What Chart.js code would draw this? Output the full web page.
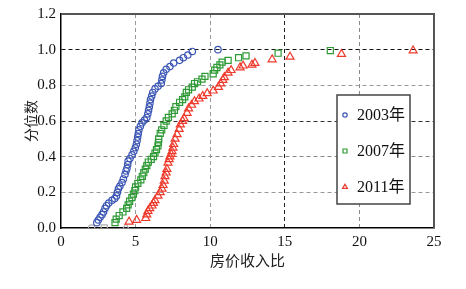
<!DOCTYPE html>
<html>
<head>
<meta charset="utf-8">
<script src="https://cdn.jsdelivr.net/npm/chart.js@4.4.0/dist/chart.umd.min.js"></script>
<style>
html, body { margin: 0; padding: 0; background: #fff; }
#wrap { width: 466px; height: 289px; }
</style>
</head>
<body>
<div id="wrap"><canvas id="c" width="466" height="289"></canvas></div>
<script>
// ===== данные =====
const seriesLabels = ['2003年', '2007年', '2011年'];

const x2003 = [2.05, 2.4, 2.5, 2.62, 2.75, 2.85, 2.95, 3.05, 3.2, 3.42, 3.6, 3.72, 3.78, 3.85, 3.95, 4.09, 4.18, 4.29, 4.36, 4.42, 4.47, 4.5, 4.62, 4.76, 4.88, 4.98, 5.05, 5.1, 5.14, 5.18, 5.22, 5.32, 5.43, 5.6, 5.75, 5.82, 5.87, 5.92, 5.96, 6.0, 6.08, 6.15, 6.3, 6.5, 6.72, 6.76, 6.8, 6.88, 7.05, 7.3, 7.55, 7.95, 8.2, 8.5, 8.8, 10.52];
const y2003 = [0, 0.03, 0.045, 0.06, 0.075, 0.09, 0.11, 0.125, 0.14, 0.155, 0.165, 0.18, 0.2, 0.22, 0.235, 0.255, 0.275, 0.3, 0.32, 0.335, 0.355, 0.375, 0.39, 0.41, 0.43, 0.45, 0.47, 0.49, 0.51, 0.53, 0.55, 0.57, 0.59, 0.605, 0.62, 0.64, 0.66, 0.68, 0.7, 0.72, 0.74, 0.76, 0.78, 0.795, 0.81, 0.83, 0.85, 0.87, 0.89, 0.905, 0.925, 0.94, 0.955, 0.97, 0.99, 1.0];

const x2007 = [2.9, 3.62, 3.7, 3.9, 4.15, 4.4, 4.5, 4.6, 4.75, 4.85, 4.95, 5.0, 5.15, 5.35, 5.45, 5.55, 5.65, 5.75, 5.85, 6.05, 6.2, 6.3, 6.4, 6.5, 6.53, 6.55, 6.65, 6.75, 6.9, 7.05, 7.2, 7.45, 7.6, 7.7, 7.95, 8.15, 8.3, 8.4, 8.55, 8.8, 8.95, 9.15, 9.45, 9.65, 10.2, 10.3, 10.45, 10.65, 10.8, 11.2, 11.9, 12.4, 14.55, 18.05];
const y2007 = [0, 0.03, 0.05, 0.07, 0.09, 0.11, 0.13, 0.15, 0.17, 0.19, 0.21, 0.23, 0.25, 0.27, 0.29, 0.31, 0.33, 0.35, 0.37, 0.385, 0.4, 0.42, 0.44, 0.46, 0.48, 0.5, 0.53, 0.55, 0.575, 0.6, 0.62, 0.64, 0.66, 0.68, 0.705, 0.72, 0.735, 0.76, 0.775, 0.79, 0.81, 0.82, 0.835, 0.85, 0.865, 0.885, 0.9, 0.915, 0.93, 0.94, 0.955, 0.965, 0.98, 0.995];

const x2011 = [4.35, 4.56, 5.07, 5.68, 5.75, 5.83, 5.95, 6.1, 6.2, 6.3, 6.5, 6.65, 6.77, 6.84, 6.92, 6.97, 7.05, 7.1, 7.17, 7.25, 7.3, 7.38, 7.44, 7.5, 7.55, 7.65, 7.78, 7.92, 8.0, 8.15, 8.25, 8.45, 8.55, 8.75, 8.95, 9.25, 9.5, 9.8, 10.2, 10.55, 10.7, 10.85, 10.95, 11.2, 11.4, 12.0, 12.2, 12.8, 13.0, 14.15, 15.35, 18.8, 23.6];
const y2011 = [0, 0.035, 0.045, 0.055, 0.075, 0.095, 0.11, 0.125, 0.14, 0.155, 0.18, 0.2, 0.22, 0.24, 0.265, 0.29, 0.31, 0.33, 0.365, 0.385, 0.4, 0.415, 0.43, 0.45, 0.47, 0.5, 0.525, 0.555, 0.58, 0.6, 0.615, 0.645, 0.67, 0.69, 0.71, 0.725, 0.74, 0.755, 0.77, 0.79, 0.81, 0.83, 0.845, 0.87, 0.885, 0.9, 0.91, 0.915, 0.925, 0.945, 0.96, 0.975, 0.995];

const xTicks = [0, 5, 10, 15, 20, 25];
const yTicks = [0, 0.2, 0.4, 0.6, 0.8, 1.0, 1.2];

const serif = "'Liberation Serif', 'Noto Sans CJK SC', serif";
const colors = ['#3a55b4', '#2e9a35', '#ee3a2c'];
const styles = ['circle', 'rect', 'triangle'];
const radii = [3.2, 4.3, 4.6];

function zip(xs, ys) {
  return xs.map((x, i) => ({ x, y: ys[i] }));
}

const allX = [x2003, x2007, x2011];
const allY = [y2003, y2007, y2011];

const datasets = seriesLabels.map((label, k) => ({
  label,
  data: zip(allX[k], allY[k]),
  showLine: false,
  pointStyle: styles[k],
  pointRadius: radii[k],
  pointBorderWidth: 1.2,
  // первая точка на нуле — серая
  pointBorderColor: ctx => ctx.dataIndex === 0 ? '#b0b0b0' : colors[k],
  pointBackgroundColor: 'rgba(255,255,255,0)'
}));

// цвет сетки: часть линий чёрная, часть серая
const xGridColor = { 5: '#9a9a9a', 10: '#9a9a9a', 15: '#222', 20: '#8a8a8a' };
const yGridColor = { 0.2: '#999', 0.4: '#888', 0.6: '#333', 0.8: '#9a9a9a', 1: '#111' };

// рамка сверху и справа
const framePlugin = {
  id: 'frame',
  afterDatasetsDraw(chart) {
    const { ctx, chartArea: a } = chart;
    ctx.save();
    ctx.strokeStyle = '#555';
    ctx.lineWidth = 2;
    ctx.beginPath();
    ctx.moveTo(a.left, a.top);
    ctx.lineTo(a.right, a.top);
    ctx.lineTo(a.right, a.bottom);
    ctx.stroke();
    ctx.restore();
  }
};

// легенда внутри области графика
const legendPlugin = {
  id: 'boxLegend',
  afterDraw(chart) {
    const { ctx } = chart;
    const bx = 337, by = 95, bw = 73, bh = 109;
    ctx.save();
    ctx.fillStyle = '#fff';
    ctx.fillRect(bx, by, bw, bh);
    ctx.strokeStyle = '#444';
    ctx.lineWidth = 1.5;
    ctx.strokeRect(bx, by, bw, bh);
    chart.data.datasets.forEach((ds, i) => {
      const y = 115 + i * 36;
      ctx.fillStyle = 'rgba(255,255,255,0)';
      ctx.strokeStyle = colors[i];
      ctx.lineWidth = 1.2;
      Chart.helpers.drawPoint(ctx, {
        pointStyle: ds.pointStyle,
        radius: i === 0 ? 2.2 : 2.8,
        borderWidth: 1.2
      }, 345, y);
      ctx.fillStyle = '#111';
      ctx.font = '16px ' + serif;
      ctx.textBaseline = 'middle';
      ctx.textAlign = 'left';
      ctx.fillText(ds.label, 357, y + 1);
    });
    ctx.restore();
  }
};

new Chart(document.getElementById('c'), {
  type: 'scatter',
  data: { datasets },
  options: {
    responsive: false,
    animation: false,
    devicePixelRatio: 1,
    layout: { padding: { top: 11, right: 32, left: 0, bottom: 0 } },
    plugins: {
      legend: { display: false },
      tooltip: { enabled: false }
    },
    scales: {
      x: {
        type: 'linear',
        min: 0,
        max: 25,
        afterBuildTicks: s => { s.ticks = xTicks.map(v => ({ value: v })); },
        afterFit: s => { s.height = 61; },
        ticks: {
          color: '#111',
          font: { family: serif, size: 15 },
          padding: 5,
          maxRotation: 0
        },
        grid: {
          drawTicks: false,
          lineWidth: 1,
          color: c => xGridColor[c.tick.value] || 'rgba(0,0,0,0)'
        },
        border: { display: true, color: '#000', width: 1.5, dash: [4, 3] },
        title: {
          display: true,
          text: '房价收入比',
          color: '#222',
          font: { family: serif, size: 15 },
          padding: { top: 0, bottom: 18 }
        }
      },
      y: {
        type: 'linear',
        min: 0,
        max: 1.2,
        afterBuildTicks: s => { s.ticks = yTicks.map(v => ({ value: v })); },
        afterFit: s => { s.width = 61; },
        ticks: {
          color: '#111',
          font: { family: serif, size: 15 },
          padding: 5,
          callback: v => v.toFixed(1)
        },
        grid: {
          drawTicks: false,
          lineWidth: 1,
          color: c => yGridColor[Math.round(c.tick.value * 10) / 10] || 'rgba(0,0,0,0)'
        },
        border: { display: true, color: '#000', width: 1.5, dash: [4, 3] },
        title: {
          display: true,
          text: '分位数',
          color: '#222',
          font: { family: serif, size: 14 },
          padding: { top: 24, bottom: 0 }
        }
      }
    }
  },
  plugins: [framePlugin, legendPlugin]
});
</script>
</body>
</html>
